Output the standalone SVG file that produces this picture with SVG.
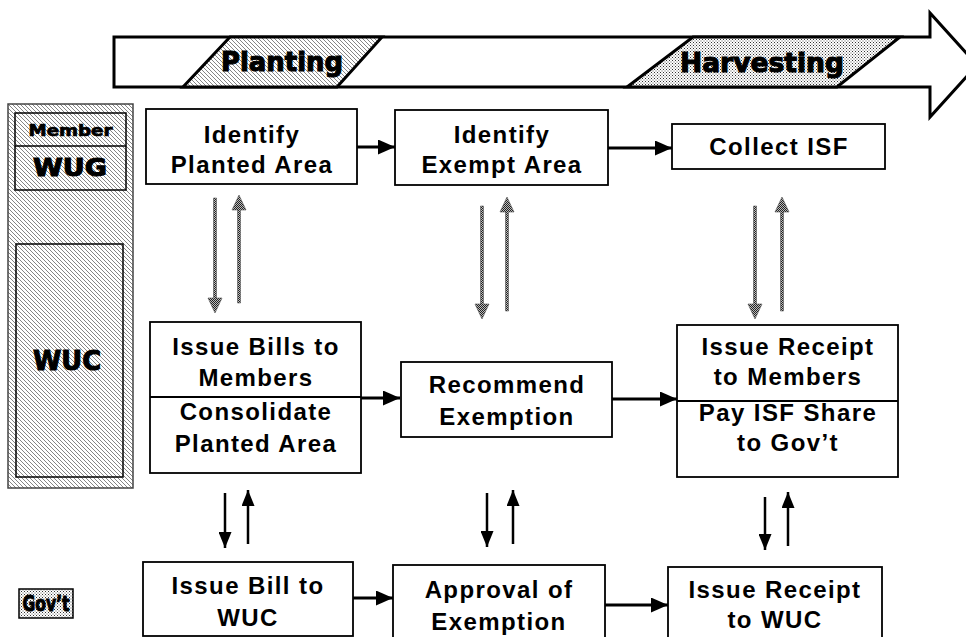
<svg xmlns="http://www.w3.org/2000/svg" width="966" height="637" viewBox="0 0 966 637">
<defs>
  <pattern id="hatch" width="4" height="4" patternUnits="userSpaceOnUse">
    <rect width="4" height="4" fill="#fff"/>
    <path d="M-1,-1 L5,5 M-1,3 L1,5 M3,-1 L5,1" stroke="#666" stroke-width="0.8"/>
  </pattern>
  <pattern id="dots" width="3" height="3" patternUnits="userSpaceOnUse">
    <rect width="3" height="3" fill="#fff"/>
    <rect x="0" y="0" width="1" height="1" fill="#333"/>
    <rect x="1.5" y="1.5" width="1" height="1" fill="#555"/>
  </pattern>
  <pattern id="chk" width="2" height="2" patternUnits="userSpaceOnUse">
    <rect width="2" height="2" fill="#bbb"/>
    <rect x="0" y="0" width="1" height="1" fill="#222"/>
    <rect x="1" y="1" width="1" height="1" fill="#222"/>
  </pattern>
  <marker id="ah" markerWidth="17" markerHeight="15" refX="17" refY="7.5" orient="auto" markerUnits="userSpaceOnUse" viewBox="0 0 17 15">
    <path d="M0,0 L17,7.5 L0,15 Z" fill="#000"/>
  </marker>
  <marker id="ahv" markerWidth="16" markerHeight="13" refX="16" refY="6.5" orient="auto" markerUnits="userSpaceOnUse" viewBox="0 0 16 13">
    <path d="M0,0 L16,6.5 L0,13 Z" fill="#000"/>
  </marker>
</defs>
<style>
  .box { fill: #fff; stroke: #000; stroke-width: 1.8; }
  .t { font-family: "Liberation Sans", Arial, sans-serif; font-weight: bold; font-size: 24px; letter-spacing: 1.4px; text-anchor: middle; fill: #000; }
  .h { font-family: "DejaVu Sans", "Liberation Sans", sans-serif; font-weight: bold; text-anchor: middle; fill: #000; stroke: #000; stroke-width: 1.1; }
  .con { stroke: #000; stroke-width: 3; fill: none; }
  .conv { stroke: #000; stroke-width: 2.5; fill: none; }
  .garrow { fill: url(#chk); stroke: #555; stroke-width: 0.6; }
</style>

<!-- Timeline -->
<g id="timeline">
  <polygon points="114,37 930,37 930,13 977,65 930,117 930,87 114,87" fill="#fff" stroke="#000" stroke-width="3"/>
  <polygon points="230,37 382,37 337,87 183,87" fill="url(#hatch)" stroke="#000" stroke-width="3"/>
  <polygon points="693,37 900,37 837,87 627,87" fill="url(#dots)" stroke="#000" stroke-width="3"/>
  <text class="h" x="282" y="71" font-size="26" textLength="122" lengthAdjust="spacingAndGlyphs">Planting</text>
  <text class="h" x="762" y="72" font-size="26" textLength="164" lengthAdjust="spacingAndGlyphs">Harvesting</text>
</g>

<!-- Left legend panel -->
<g id="panel">
  <rect x="8" y="104" width="125" height="384" fill="url(#hatch)" stroke="#444" stroke-width="1.5"/>
</g>
<g id="wug">
  <rect x="15" y="113" width="111" height="77" fill="url(#hatch)" stroke="#000" stroke-width="1.5"/>
  <line x1="15" y1="146" x2="126" y2="146" stroke="#000" stroke-width="1.5"/>
  <text class="h" x="70.5" y="136" font-size="15" textLength="84" lengthAdjust="spacingAndGlyphs" style="stroke-width:0.7">Member</text>
  <text class="h" x="70" y="176" font-size="24" textLength="74" lengthAdjust="spacingAndGlyphs">WUG</text>
</g>
<g id="wuc">
  <rect x="16" y="244" width="107" height="233" fill="url(#hatch)" stroke="#000" stroke-width="1.5"/>
  <text class="h" x="67" y="370" font-size="26" textLength="68" lengthAdjust="spacingAndGlyphs">WUC</text>
</g>
<g id="govt">
  <rect x="19" y="589" width="54" height="29" fill="url(#dots)" stroke="#000" stroke-width="1.5"/>
  <text class="h" x="46" y="611" font-size="22" textLength="47" lengthAdjust="spacingAndGlyphs">Gov’t</text>
</g>

<!-- Row 1 -->
<g id="identify-planted">
  <rect class="box" x="146" y="109" width="211" height="75"/>
  <text class="t" x="252" y="143">Identify</text>
  <text class="t" x="252" y="173">Planted Area</text>
</g>
<g id="identify-exempt">
  <rect class="box" x="395" y="110" width="213" height="75"/>
  <text class="t" x="502" y="143">Identify</text>
  <text class="t" x="502" y="173">Exempt Area</text>
</g>
<g id="collect-isf">
  <rect class="box" x="672" y="124" width="213" height="45"/>
  <text class="t" x="779" y="155">Collect ISF</text>
</g>

<!-- Row 2 -->
<g id="issue-bills">
  <rect class="box" x="150" y="322" width="211" height="151"/>
  <line x1="150" y1="397" x2="361" y2="397" stroke="#000" stroke-width="1.8"/>
  <text class="t" x="256" y="355">Issue Bills to</text>
  <text class="t" x="256" y="386">Members</text>
  <text class="t" x="256" y="420">Consolidate</text>
  <text class="t" x="256" y="452">Planted Area</text>
</g>
<g id="recommend">
  <rect class="box" x="401" y="362" width="211" height="75"/>
  <text class="t" x="507" y="393">Recommend</text>
  <text class="t" x="507" y="425">Exemption</text>
</g>
<g id="issue-receipt">
  <rect class="box" x="677" y="325" width="221" height="152"/>
  <line x1="677" y1="401" x2="898" y2="401" stroke="#000" stroke-width="1.8"/>
  <text class="t" x="788" y="355">Issue Receipt</text>
  <text class="t" x="788" y="385">to Members</text>
  <text class="t" x="788" y="421">Pay ISF Share</text>
  <text class="t" x="788" y="451">to Gov’t</text>
</g>

<!-- Row 3 -->
<g id="issue-bill-wuc">
  <rect class="box" x="143" y="562" width="210" height="74"/>
  <text class="t" x="248" y="594">Issue Bill to</text>
  <text class="t" x="248" y="626">WUC</text>
</g>
<g id="approval">
  <rect class="box" x="393" y="565" width="212" height="74"/>
  <text class="t" x="499" y="598">Approval of</text>
  <text class="t" x="499" y="630">Exemption</text>
</g>
<g id="issue-receipt-wuc">
  <rect class="box" x="668" y="567" width="214" height="72"/>
  <text class="t" x="775" y="598">Issue Receipt</text>
  <text class="t" x="775" y="628">to WUC</text>
</g>

<!-- Connectors -->
<g id="connectors">
  <line class="con" x1="357" y1="147" x2="395" y2="147" marker-end="url(#ah)"/>
  <line class="con" x1="608" y1="148" x2="672" y2="148" marker-end="url(#ah)"/>
  <line class="con" x1="361" y1="398" x2="400" y2="398" marker-end="url(#ah)"/>
  <line class="con" x1="612" y1="399" x2="677" y2="399" marker-end="url(#ah)"/>
  <line class="con" x1="353" y1="598" x2="393" y2="598" marker-end="url(#ah)"/>
  <line class="con" x1="605" y1="605" x2="668" y2="605" marker-end="url(#ah)"/>

  <!-- gray patterned vertical arrows -->
  <path class="garrow" d="M213.5,198 h3 v100 h5.5 l-7,15 l-7,-15 h5.5 z"/>
  <path class="garrow" d="M237.5,303 h3 v-93 h5.5 l-7,-15 l-7,15 h5.5 z"/>
  <path class="garrow" d="M480.5,206 h3 v98 h5.5 l-7,15 l-7,-15 h5.5 z"/>
  <path class="garrow" d="M505.5,311 h3 v-99 h5.5 l-7,-15 l-7,15 h5.5 z"/>
  <path class="garrow" d="M753.5,206 h3 v98 h5.5 l-7,15 l-7,-15 h5.5 z"/>
  <path class="garrow" d="M780.5,311 h3 v-99 h5.5 l-7,-15 l-7,15 h5.5 z"/>

  <!-- black vertical arrows -->
  <line class="conv" x1="225" y1="493" x2="225" y2="548" marker-end="url(#ahv)"/>
  <line class="conv" x1="248" y1="544" x2="248" y2="490" marker-end="url(#ahv)"/>
  <line class="conv" x1="487" y1="493" x2="487" y2="547" marker-end="url(#ahv)"/>
  <line class="conv" x1="513" y1="544" x2="513" y2="490" marker-end="url(#ahv)"/>
  <line class="conv" x1="765" y1="497" x2="765" y2="550" marker-end="url(#ahv)"/>
  <line class="conv" x1="788" y1="546" x2="788" y2="492" marker-end="url(#ahv)"/>
</g>
</svg>
